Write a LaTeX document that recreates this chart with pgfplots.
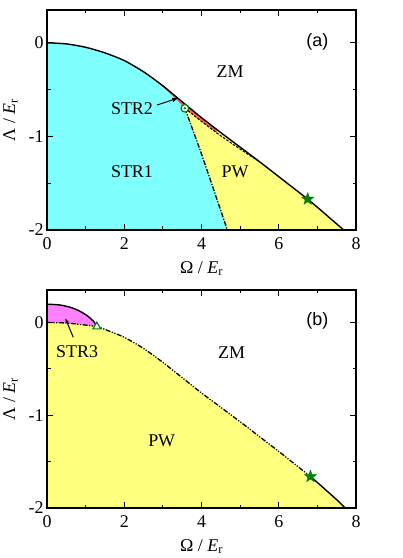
\documentclass[border=0pt]{standalone}
\usepackage{pgfplots}
\pgfplotsset{compat=1.18}
\usepackage{fontspec}
\setmainfont{Liberation Serif}
\newfontfamily\arialf{Liberation Sans}
\usetikzlibrary{arrows.meta}
\definecolor{cyanf}{RGB}{128,255,255}
\definecolor{yelf}{RGB}{255,255,128}
\definecolor{redf}{RGB}{255,96,96}
\definecolor{pinkf}{RGB}{255,128,255}
\definecolor{mgreen}{RGB}{0,128,0}
\pgfdeclareplotmark{fstar}{%
  \pgfpathmoveto{\pgfpointpolar{90}{\pgfplotmarksize}}%
  \pgfpathlineto{\pgfpointpolar{126}{0.42\pgfplotmarksize}}%
  \pgfpathlineto{\pgfpointpolar{162}{\pgfplotmarksize}}%
  \pgfpathlineto{\pgfpointpolar{198}{0.42\pgfplotmarksize}}%
  \pgfpathlineto{\pgfpointpolar{234}{\pgfplotmarksize}}%
  \pgfpathlineto{\pgfpointpolar{270}{0.42\pgfplotmarksize}}%
  \pgfpathlineto{\pgfpointpolar{306}{\pgfplotmarksize}}%
  \pgfpathlineto{\pgfpointpolar{342}{0.42\pgfplotmarksize}}%
  \pgfpathlineto{\pgfpointpolar{18}{\pgfplotmarksize}}%
  \pgfpathlineto{\pgfpointpolar{54}{0.42\pgfplotmarksize}}%
  \pgfpathclose\pgfusepathqfillstroke}
\newcommand{\bigf}{\fontsize{18}{20}\selectfont}
\pgfplotsset{
  myax/.style={
    scale only axis, width=309bp,
    xmin=0, xmax=8, ymin=-2, ymax=0.35,
    xtick={0,2,4,6,8}, xticklabels={0,2,4,6,8},
    ytick={-2,-1,0}, yticklabels={-2,-1,0},
    minor xtick={1,3,5,7}, minor ytick={-1.5,-0.5},
    tick align=inside, major tick length=6bp, minor tick length=3.5bp,
    axis line style={line width=1.2bp},
    every tick/.style={black, line width=0.9bp},
    tick label style={font=\bigf},
    xticklabel style={yshift=-4bp},
    label style={font=\bigf},
    xlabel={Ω / \textit{E}\textsubscript{r}},
    ylabel={Λ / \textit{E}\textsubscript{r}},
    xlabel style={yshift=-5bp},
    ylabel style={yshift=4bp},
    axis on top, clip=true,
  },
  dd/.style={black, line width=1.3bp, dash pattern=on 5bp off 1.5bp on 1.2bp off 1.5bp},
  ddd/.style={black, line width=1.3bp, dash pattern=on 5bp off 1.5bp on 1.2bp off 1.5bp on 1.2bp off 1.5bp},
}
\begin{document}
\begin{tikzpicture}
\useasboundingbox (0,0) rectangle (403bp,558bp);
% ---------------- panel (a)
\begin{axis}[myax, at={(47bp,328bp)}, anchor=south west, height=220bp]
\addplot[draw=none, fill=yelf] coordinates {
(0,0) (0.5,-0.012) (1,-0.048) (1.5,-0.108) (2,-0.19) (2.5,-0.31) (2.8,-0.395) (3,-0.46) (3.2,-0.525) (3.57,-0.655) (4,-0.80) (4.4,-0.93) (4.5,-0.96) (5,-1.115) (5.5,-1.27) (6,-1.43) (6.5,-1.59) (6.75,-1.67) (7,-1.757) (7.5,-1.935) (7.68,-2.0) (0,-2)};
\addplot[draw=none, fill=cyanf] coordinates {
(0,0) (0.5,-0.012) (1,-0.048) (1.5,-0.108) (2,-0.19) (2.5,-0.31) (2.8,-0.395) (3.2,-0.548) (3.57,-0.70) (3.96,-1.14) (4.3,-1.55) (4.67,-2.0) (0,-2)};
\addplot[draw=none, fill=redf] coordinates {
(2.8,-0.395) (3,-0.46) (3.2,-0.525) (3.57,-0.655) (4,-0.80) (4.4,-0.93)
(4.4,-0.965) (4.0,-0.84) (3.57,-0.70) (3.2,-0.548) (2.8,-0.395)};
\addplot[black, line width=1.4bp, smooth, tension=0.4] coordinates {
(0,0) (0.5,-0.012) (1,-0.048) (1.5,-0.108) (2,-0.19) (2.5,-0.31) (3,-0.46) (3.57,-0.655) (4,-0.80) (4.5,-0.96) (5,-1.115) (5.5,-1.27) (6,-1.43) (6.5,-1.59) (6.75,-1.67) (7,-1.757) (7.5,-1.935) (7.68,-2.0)};
\addplot[dd] coordinates {(3.57,-0.70) (3.96,-1.14) (4.3,-1.55) (4.67,-2.0)};
\addplot[black, line width=1.1bp, dash pattern=on 2.5bp off 1.5bp] coordinates {
(3.57,-0.70) (4.0,-0.84) (4.4,-0.965) (4.8,-1.08) (5.2,-1.19) (5.5,-1.27)};
\addplot[only marks, mark=*, mark size=3.8bp, mark options={draw=mgreen, fill=white, line width=1.2bp}] coordinates {(3.57,-0.70)};
\addplot[only marks, mark=*, mark size=1bp, mark options={draw=mgreen, fill=mgreen}] coordinates {(3.57,-0.70)};
\addplot[only marks, mark=fstar, mark size=6.5bp, mark options={draw=mgreen, fill=mgreen, line width=0.3bp}] coordinates {(6.75,-1.67)};
\draw[-{Latex[length=6bp,width=4.5bp]}, line width=1bp] (axis cs:2.85,-0.665) -- (axis cs:3.4,-0.59);
\node[font=\bigf] at (axis cs:2.2,-0.70) {STR2};
\node[font=\bigf] at (axis cs:4.74,-0.31) {ZM};
\node[font=\bigf] at (axis cs:2.2,-1.38) {STR1};
\node[font=\bigf] at (axis cs:4.87,-1.38) {PW};
\node[font=\arialf\fontsize{18}{20}\selectfont] at (axis cs:7.0,0.01) {(a)};
\end{axis}
% ---------------- panel (b)
\begin{axis}[myax, at={(47bp,50bp)}, anchor=south west, height=218bp]
\addplot[draw=none, fill=yelf] coordinates {
(0,0) (0.5,-0.006) (1,-0.028) (1.29,-0.045) (1.5,-0.075) (2,-0.16) (2.5,-0.28) (3,-0.43) (3.5,-0.595) (4,-0.76) (4.5,-0.915) (5,-1.07) (5.5,-1.23) (6,-1.39) (6.5,-1.555) (6.82,-1.66) (7,-1.725) (7.5,-1.91) (7.72,-2.0) (0,-2)};
\addplot[draw=none, fill=pinkf] coordinates {
(0,0.197) (0.3,0.19) (0.5,0.175) (0.7,0.15) (0.9,0.11) (1.05,0.07) (1.2,0.015) (1.29,-0.045) (1,-0.028) (0.5,-0.006) (0,0)};
\addplot[black, line width=1.4bp, smooth, tension=0.5] coordinates {
(0,0.197) (0.3,0.19) (0.5,0.175) (0.7,0.15) (0.9,0.11) (1.05,0.07) (1.2,0.015) (1.29,-0.045)};
\addplot[ddd, smooth, tension=0.4] coordinates {
(0,0) (0.5,-0.006) (1,-0.028) (1.29,-0.045) (1.5,-0.075) (2,-0.16) (2.5,-0.28) (3,-0.43) (3.5,-0.595) (4,-0.76) (4.5,-0.915) (5,-1.07) (5.5,-1.23) (6,-1.39) (6.5,-1.555) (6.82,-1.66)};
\addplot[black, line width=1.4bp] coordinates {(6.82,-1.66) (7,-1.725) (7.5,-1.91) (7.72,-2.0)};
\addplot[only marks, mark=triangle*, mark size=4.5bp, mark options={draw=mgreen, fill=white, line width=1.2bp}] coordinates {(1.29,-0.045)};
\addplot[only marks, mark=fstar, mark size=6.5bp, mark options={draw=mgreen, fill=mgreen, line width=0.3bp}] coordinates {(6.82,-1.66)};
\draw[-{Latex[length=5bp,width=3.5bp]}, line width=1bp] (axis cs:0.68,-0.16) -- (axis cs:0.47,0.05);
\node[font=\bigf] at (axis cs:0.78,-0.31) {STR3};
\node[font=\bigf] at (axis cs:4.78,-0.32) {ZM};
\node[font=\bigf] at (axis cs:2.97,-1.28) {PW};
\node[font=\arialf\fontsize{18}{20}\selectfont] at (axis cs:7.0,0.02) {(b)};
\end{axis}
\end{tikzpicture}
\end{document}
